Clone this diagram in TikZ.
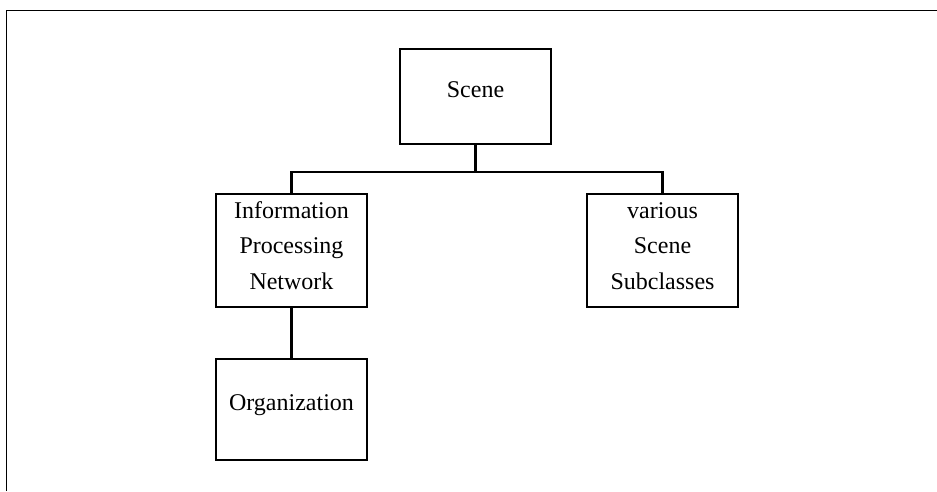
\documentclass[tikz,border=0pt]{standalone}
\usepackage{fontspec}
\setmainfont{Liberation Serif}
\begin{document}
\begin{tikzpicture}[x=1pt,y=-1pt,
  box/.style={draw,line width=2.4pt,rectangle,inner sep=0pt,minimum width=151pt},
  lbl/.style={anchor=base,align=center,inner sep=0pt,font=\fontsize{24}{35.5}\selectfont},
  link/.style={line width=2.4pt}]
\useasboundingbox (0,0) rectangle (937,491);
\draw[line width=1.8pt] (6.5,491) -- (6.5,10.5) -- (937,10.5);
\node[box,minimum height=95pt] (scene) at (475.5,96.5) {};
\node[box,minimum height=113pt] (ipn) at (291.5,250.5) {};
\node[box,minimum height=113pt] (sub) at (662.5,250.5) {};
\node[box,minimum height=101pt] (org) at (291.5,409.5) {};
\node[lbl] (sceneT) at (475.5,97) {Scene};
\node[lbl] (ipnT) at (291.5,289) {Information\\Processing\\Network};
\node[lbl] (subT) at (662.5,289) {various\\Scene\\Subclasses};
\node[lbl] (orgT) at (291.5,410) {Organization};
\coordinate (bus) at (475.5,172);
\draw[link] (scene.south) -- (bus);
\draw[link] (ipn.north) |- (bus) -| (sub.north);
\draw[link] (ipn.south) -- (org.north);
\end{tikzpicture}
\end{document}
